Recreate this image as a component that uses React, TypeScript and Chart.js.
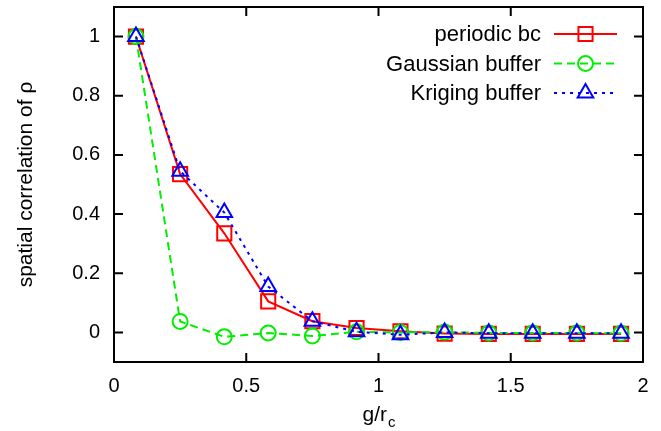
import React, { useEffect, useRef } from 'react';
import { Chart, registerables } from 'chart.js';

Chart.register(...registerables);

const xValues = [0.083, 0.25, 0.417, 0.583, 0.75, 0.917, 1.083, 1.25, 1.417, 1.583, 1.75, 1.917];
const periodicBc = [1, 0.535, 0.335, 0.105, 0.038, 0.015, 0.004, -0.004, -0.005, -0.005, -0.005, -0.005];
const gaussianBuffer = [1, 0.037, -0.015, -0.002, -0.012, 0.002, 0.0, 0.001, -0.002, -0.002, -0.002, -0.003];
const krigingBuffer = [1, 0.545, 0.405, 0.155, 0.038, 0.002, -0.008, 0.0, -0.003, -0.003, -0.003, -0.003];

const xTicks = [0, 0.5, 1, 1.5, 2];
const yTicks = [0, 0.2, 0.4, 0.6, 0.8, 1];
const seriesNames = ['periodic bc', 'Gaussian buffer', 'Kriging buffer'];
const yTitle = 'spatial correlation of ρ';

const FONT = '"Liberation Sans", Arial, Helvetica, sans-serif';
const RED = '#ff0000';
const GREEN = '#00ee00';
const BLUE = '#0000ff';

// plot frame (layout only)
const AREA = { left: 114, right: 643, top: 7, bottom: 362 };

function marker(ctx: CanvasRenderingContext2D, style: string, x: number, y: number, r: number) {
  ctx.beginPath();
  if (style === 'rect') {
    const s = Math.SQRT1_2 * r;
    ctx.rect(x - s, y - s, 2 * s, 2 * s);
  } else if (style === 'circle') {
    ctx.arc(x, y, r, 0, Math.PI * 2);
  } else {
    for (let i = 0; i < 3; i++) {
      const a = (i * 2 * Math.PI) / 3;
      const px = x + Math.sin(a) * r;
      const py = y - Math.cos(a) * r;
      if (i === 0) ctx.moveTo(px, py);
      else ctx.lineTo(px, py);
    }
    ctx.closePath();
  }
  ctx.stroke();
}

const framePlugin = {
  id: 'frameTicks',
  afterLayout(chart: any) {
    const ca = chart.chartArea;
    ca.left = AREA.left;
    ca.right = AREA.right;
    ca.top = AREA.top;
    ca.bottom = AREA.bottom;
    ca.width = AREA.right - AREA.left;
    ca.height = AREA.bottom - AREA.top;
    const ys = chart.scales.y;
    ys.top = AREA.top;
    ys.bottom = AREA.bottom;
    ys.height = AREA.bottom - AREA.top;
    ys.configure();
    const xs = chart.scales.x;
    xs.left = AREA.left;
    xs.right = AREA.right;
    xs.width = AREA.right - AREA.left;
    xs.top = AREA.bottom;
    xs.configure();
  },
  beforeDatasetsDraw(chart: any) {
    const { ctx, chartArea } = chart;
    const { left, right, top, bottom } = chartArea;
    const xs = chart.scales.x;
    const ys = chart.scales.y;
    ctx.save();
    ctx.strokeStyle = '#000';
    ctx.lineWidth = 2;
    ctx.strokeRect(left, top, right - left, bottom - top);
    ctx.beginPath();
    for (const v of xTicks) {
      const px = xs.getPixelForValue(v);
      ctx.moveTo(px, bottom);
      ctx.lineTo(px, bottom - 9);
      ctx.moveTo(px, top);
      ctx.lineTo(px, top + 9);
    }
    for (const v of yTicks) {
      const py = ys.getPixelForValue(v);
      ctx.moveTo(left, py);
      ctx.lineTo(left + 9, py);
      ctx.moveTo(right, py);
      ctx.lineTo(right - 9, py);
    }
    ctx.stroke();

    // x axis title with subscript
    ctx.fillStyle = '#000';
    ctx.textBaseline = 'alphabetic';
    ctx.textAlign = 'left';
    ctx.font = `21px ${FONT}`;
    const main = 'g/r';
    const wMain = ctx.measureText(main).width;
    ctx.font = `15px ${FONT}`;
    const wSub = ctx.measureText('c').width;
    const cx = (left + right) / 2;
    const start = cx - (wMain + wSub) / 2;
    ctx.font = `21px ${FONT}`;
    ctx.fillText(main, start, 421);
    ctx.font = `15px ${FONT}`;
    ctx.fillText('c', start + wMain + 1, 427);
    ctx.restore();
  },
  afterDatasetsDraw(chart: any) {
    const { ctx } = chart;
    const rows = [
      { name: seriesNames[0], color: RED, dash: [], style: 'rect', r: 10 },
      { name: seriesNames[1], color: GREEN, dash: [8, 5], style: 'circle', r: 7.5 },
      { name: seriesNames[2], color: BLUE, dash: [3, 5], style: 'triangle', r: 9 },
    ];
    const ys = [34, 63.5, 93];
    ctx.save();
    rows.forEach((row, i) => {
      const y = ys[i];
      ctx.fillStyle = '#000';
      ctx.font = `22px ${FONT}`;
      ctx.textAlign = 'right';
      ctx.textBaseline = 'middle';
      ctx.fillText(row.name, 541, y + 1);
      ctx.strokeStyle = row.color;
      ctx.lineWidth = 2;
      ctx.setLineDash(row.dash);
      ctx.beginPath();
      ctx.moveTo(554, y);
      ctx.lineTo(617, y);
      ctx.stroke();
      ctx.setLineDash([]);
      marker(ctx, row.style, 585.5, y, row.r);
    });
    ctx.restore();
  },
};

export default function App() {
  const canvasRef = useRef<HTMLCanvasElement | null>(null);

  useEffect(() => {
    if (!canvasRef.current) return;
    const toPts = (arr: number[]) => arr.map((v, i) => ({ x: xValues[i], y: v }));
    const common = {
      showLine: true,
      fill: false,
      borderWidth: 2,
      pointBorderWidth: 2,
      pointBackgroundColor: 'rgba(0,0,0,0)',
      pointHoverRadius: 0,
      tension: 0,
    };
    const chart = new Chart(canvasRef.current, {
      type: 'scatter',
      data: {
        datasets: [
          {
            ...common,
            label: seriesNames[0],
            data: toPts(periodicBc),
            borderColor: RED,
            pointBorderColor: RED,
            pointStyle: 'rect',
            pointRadius: 10,
            order: 3,
          },
          {
            ...common,
            label: seriesNames[1],
            data: toPts(gaussianBuffer),
            borderColor: GREEN,
            pointBorderColor: GREEN,
            borderDash: [8, 5],
            pointStyle: 'circle',
            pointRadius: 7.5,
            order: 2,
          },
          {
            ...common,
            label: seriesNames[2],
            data: toPts(krigingBuffer),
            borderColor: BLUE,
            pointBorderColor: BLUE,
            borderDash: [3, 5],
            pointStyle: 'triangle',
            pointRadius: 9,
            order: 1,
          },
        ] as any,
      },
      options: {
        animation: false,
        responsive: false,
        devicePixelRatio: 1,
        layout: { padding: { left: 0, top: 7, right: 18, bottom: 0 } },
        plugins: {
          legend: { display: false },
          tooltip: { enabled: false },
        },
        scales: {
          x: {
            type: 'linear',
            min: 0,
            max: 2,
            grid: { display: false, drawTicks: false },
            border: { display: false },
            afterBuildTicks: (s: any) => {
              s.ticks = xTicks.map((v) => ({ value: v }));
            },
            afterFit: (s: any) => {
              s.height = 69;
              s.paddingLeft = 0;
              s.paddingRight = 0;
            },
            ticks: {
              color: '#000',
              font: { family: FONT, size: 20 },
              padding: 12,
              maxRotation: 0,
              callback: (v: any) => String(v),
            },
          },
          y: {
            type: 'linear',
            min: -0.1,
            max: 1.1,
            grid: { display: false, drawTicks: false },
            border: { display: false },
            afterBuildTicks: (s: any) => {
              s.ticks = yTicks.map((v) => ({ value: v }));
            },
            afterFit: (s: any) => {
              s.width = 114;
              s.paddingTop = 0;
              s.paddingBottom = 0;
            },
            ticks: {
              color: '#000',
              font: { family: FONT, size: 20 },
              padding: 14,
              callback: (v: any) => String(v),
            },
            title: {
              display: true,
              text: yTitle,
              color: '#000',
              font: { family: FONT, size: 21 },
              padding: { top: 14, bottom: 0 },
            },
          },
        },
      } as any,
      plugins: [framePlugin],
    });
    return () => chart.destroy();
  }, []);

  return (
    <div style={{ position: 'absolute', left: 0, top: 0, width: 661, height: 431, background: '#fff' }}>
      <canvas ref={canvasRef} width={661} height={431} style={{ display: 'block' }} />
    </div>
  );
}
